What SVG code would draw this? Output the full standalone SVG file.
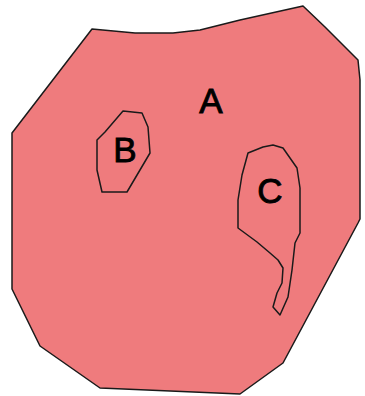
<svg xmlns="http://www.w3.org/2000/svg" width="365" height="396" viewBox="0 0 365 396">
<defs>
<style>
.region{fill:#ef7b7d;stroke:#1a1a1a;stroke-width:1.5;stroke-linejoin:round}
.lbl{font-family:"Liberation Sans",Arial,sans-serif;font-size:35px;fill:#000;stroke:#000;stroke-width:0.9;text-anchor:middle}
</style>
</defs>
<g id="A">
<polygon class="region" points="92,29 135,33 173,33 200,30 240,20 303,6 325,27 358,60 360,80 360,219 358,223 283,363 240,394 100,388 40,346 12,289 12,133"/>
<text class="lbl" x="211" y="113">A</text>
</g>
<g id="B">
<polygon class="region" points="123,111 142,113 148,127 150,153 127,192 102,192 97,170 97,140 105,132"/>
<text class="lbl" x="125" y="162">B</text>
</g>
<g id="C">
<polygon class="region" points="273,145 283,148 297,168 300,188 300,233 295,243 292,270 288,297 280,315 273,307 277,293 282,283 283,268 278,260 270,253 257,242 238,228 238,200 242,175 248,153 263,147"/>
<text class="lbl" x="270" y="203">C</text>
</g>
<g id="connectors"/>
</svg>
